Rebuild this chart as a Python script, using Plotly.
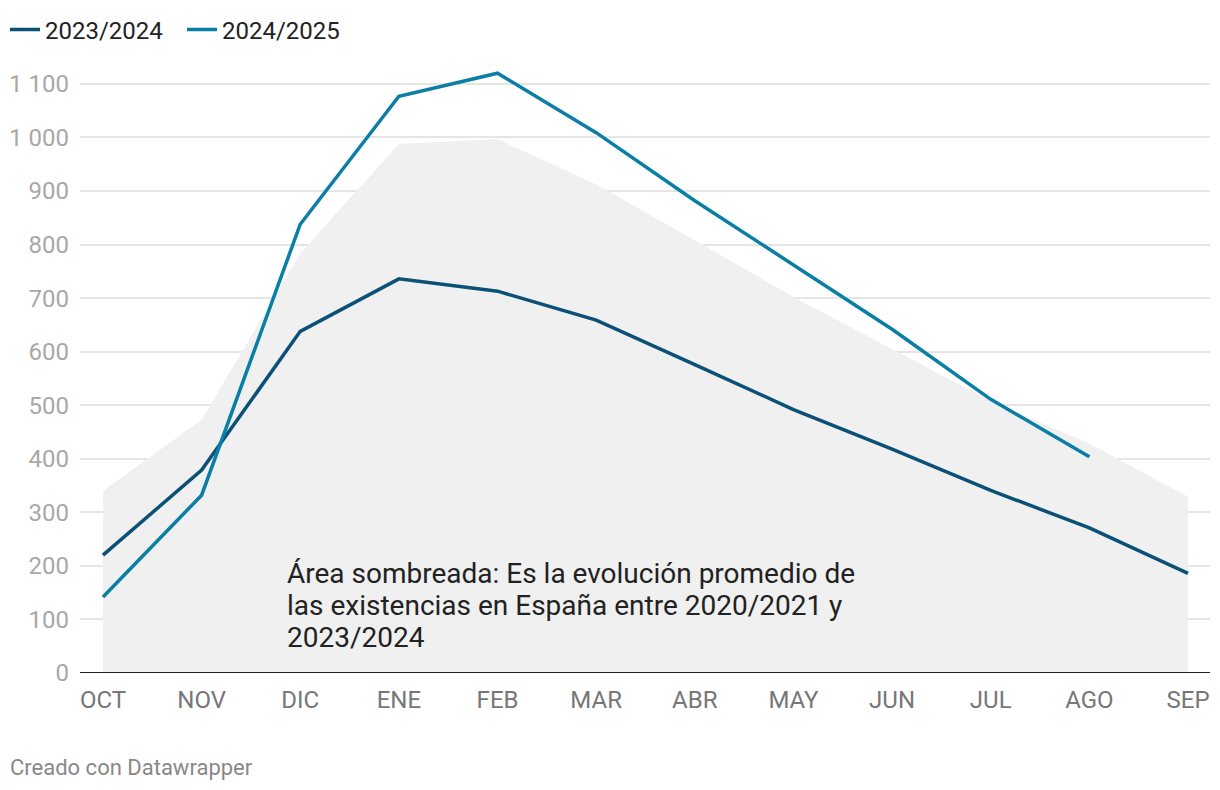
import plotly.graph_objects as go

months = ["OCT", "NOV", "DIC", "ENE", "FEB", "MAR", "ABR", "MAY", "JUN", "JUL", "AGO", "SEP"]
avg_2020_2024 = [340, 473, 784, 988, 997, 912, 808, 702, 605, 508, 428, 329]
s_2023_2024 = [220, 379, 638, 736, 713, 659, 576, 492, 418, 341, 271, 186]
s_2024_2025 = [142, 332, 838, 1077, 1120, 1009, 882, 762, 642, 511, 404]
ytick_vals = [0, 100, 200, 300, 400, 500, 600, 700, 800, 900, 1000, 1100]
ytick_labels = ["0", "100", "200", "300", "400", "500", "600", "700", "800", "900", "1 000", "1 100"]
note_lines = ["Área sombreada: Es la evolución promedio de",
              "las existencias en España entre 2020/2021 y",
              "2023/2024"]

FONT = "Roboto"
W, H = 1212, 782          # page body adds 8px offset
L, R, T, B = 72, 10, 52, 117
PW, PH = W - L - R, H - T - B
YMAX = 1144.7

fig = go.Figure()
fig.add_trace(go.Scatter(x=months, y=avg_2020_2024, mode="lines", line=dict(width=0, color="#f0f0f0"),
                         fill="tozeroy", fillcolor="#f0f0f0", showlegend=False, hoverinfo="skip"))
fig.add_trace(go.Scatter(x=months, y=s_2023_2024, mode="lines", name="2023/2024",
                         line=dict(color="#0b5177", width=3.5)))
fig.add_trace(go.Scatter(x=months[:len(s_2024_2025)], y=s_2024_2025, mode="lines", name="2024/2025",
                         line=dict(color="#0a7ea5", width=3.5)))

# note text, one annotation per line (tight line spacing)
for i, line in enumerate(note_lines):
    fig.add_annotation(x=1.843, y=(100 - 32 * i) / 0.5355, xref="x", yref="y", xanchor="left", yanchor="middle",
                       align="left", text=line, showarrow=False,
                       font=dict(family=FONT, size=28, color="#222222"))

# footer
fig.add_annotation(x=(0 - L) / PW, y=-(759 - (T + PH)) / PH, xref="paper", yref="paper",
                   xanchor="left", yanchor="middle", text="Creado con Datawrapper", showarrow=False,
                   font=dict(family=FONT, size=22, color="#888888"))

fig.add_shape(type="line", xref="paper", yref="y", x0=0, x1=1, y0=0, y1=0,
              line=dict(color="#222222", width=2.2))

fig.update_layout(
    width=W, height=H,
    margin=dict(l=L, r=R, t=T, b=B, autoexpand=False),
    paper_bgcolor="white", plot_bgcolor="white",
    font=dict(family=FONT, size=20, color="#333333"),
    showlegend=True,
    legend=dict(orientation="h", x=(-3 - L) / PW, xref="paper", y=1 - 22 / H, yref="container",
                xanchor="left", yanchor="middle",
                font=dict(family=FONT, size=24, color="#222222"), itemwidth=30,
                entrywidth=132, entrywidthmode="pixels",
                bgcolor="rgba(0,0,0,0)"),
    xaxis=dict(type="category", range=[-0.233, 11.223], showgrid=False, zeroline=False, showline=False,
               ticks="", tickfont=dict(family=FONT, size=24, color="#777777"), ticklabelstandoff=10,
               fixedrange=True, automargin=False),
    yaxis=dict(range=[0, YMAX], tickvals=ytick_vals, ticktext=ytick_labels, showgrid=True,
               gridcolor="#e5e5e5", gridwidth=1.5, zeroline=False, showline=False, ticks="",
               tickfont=dict(family=FONT, size=24, color="#a8a8a8"), ticklabelstandoff=10,
               fixedrange=True, automargin=False),
)

fig.write_html("out.html")
